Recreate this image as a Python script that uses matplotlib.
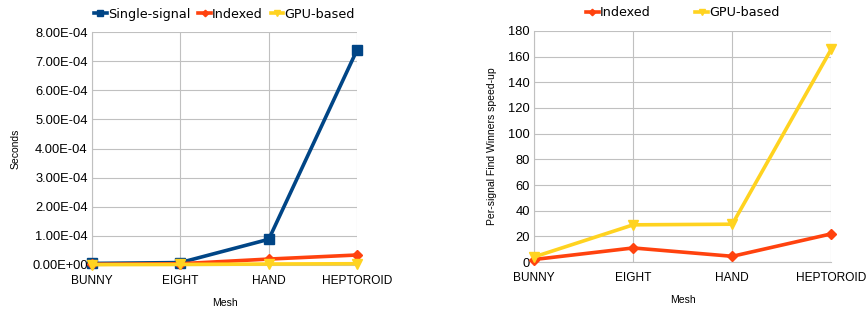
import matplotlib
matplotlib.use('Agg')
import matplotlib.pyplot as plt
from matplotlib.ticker import FuncFormatter

meshes = ['BUNNY', 'EIGHT', 'HAND', 'HEPTOROID']

# seconds per signal
single_signal = [5e-6, 8e-6, 8.8e-5, 7.4e-4]
indexed_sec = [2e-6, 4e-6, 2.0e-5, 3.4e-5]
gpu_sec = [1e-6, 1.5e-6, 3e-6, 4e-6]

# speed-up
indexed_speedup = [2, 11, 4.5, 22]
gpu_speedup = [4, 29, 29.5, 166]

BLUE = '#004586'
ORANGE = '#ff420e'
YELLOW = '#ffd320'
GRID = '#c0c0c0'

plt.rcParams['font.family'] = ['Liberation Sans', 'DejaVu Sans']

fig = plt.figure(figsize=(8.67, 3.12), dpi=100)
ax1 = fig.add_axes([0.106, 0.151, 0.306, 0.746])
ax2 = fig.add_axes([0.616, 0.160, 0.343, 0.741])

x = list(range(len(meshes)))


def style(ax):
    ax.set_xlim(0, 3)
    ax.set_xticks(x)
    ax.set_xticklabels(meshes, fontsize=8.6)
    ax.tick_params(axis='y', labelsize=9.3, length=0, pad=3)
    ax.tick_params(axis='x', length=0, pad=7)
    ax.grid(True, color=GRID, linewidth=0.8)
    ax.set_axisbelow(True)
    for s in ['top', 'right']:
        ax.spines[s].set_visible(False)
    for s in ['left', 'bottom']:
        ax.spines[s].set_color(GRID)
    ax.set_xlabel('Mesh', fontsize=7.5, labelpad=8)


ax1.plot(x, single_signal, color=BLUE, lw=2.6, marker='s', ms=6.5, label='Single-signal', clip_on=False, zorder=3)
ax1.plot(x, indexed_sec, color=ORANGE, lw=2.6, marker='D', ms=5.5, label='Indexed', clip_on=False, zorder=4)
ax1.plot(x, gpu_sec, color=YELLOW, lw=2.6, marker='v', ms=6.5, label='GPU-based', clip_on=False, zorder=5)
ax1.set_ylim(0, 8e-4)
ax1.set_yticks([i * 1e-4 for i in range(9)])
ax1.yaxis.set_major_formatter(FuncFormatter(lambda v, p: ('%.2E' % v)))
ax1.set_ylabel('Seconds', fontsize=7.5, labelpad=8)
style(ax1)
ax1.legend(loc='lower center', bbox_to_anchor=(0.5, 1.0), ncol=3, frameon=False,
           handlelength=1.0, handletextpad=0.1, columnspacing=0.6,
           markerscale=0.6, prop={'family': 'DejaVu Sans', 'size': 9.2})

ax2.plot(x, indexed_speedup, color=ORANGE, lw=2.6, marker='D', ms=5.5, label='Indexed', clip_on=False, zorder=3)
ax2.plot(x, gpu_speedup, color=YELLOW, lw=2.6, marker='v', ms=6.5, label='GPU-based', clip_on=False, zorder=4)
ax2.set_ylim(0, 180)
ax2.set_yticks(range(0, 181, 20))
ax2.set_ylabel('Per-signal Find Winners speed-up', fontsize=7.5, labelpad=8)
style(ax2)
ax2.legend(loc='lower center', bbox_to_anchor=(0.5, 1.0), ncol=2, frameon=False,
           handlelength=1.0, handletextpad=0.1, columnspacing=3.5,
           markerscale=0.6, prop={'family': 'DejaVu Sans', 'size': 9.2})

fig.savefig('out.png', dpi=100, facecolor='white')
